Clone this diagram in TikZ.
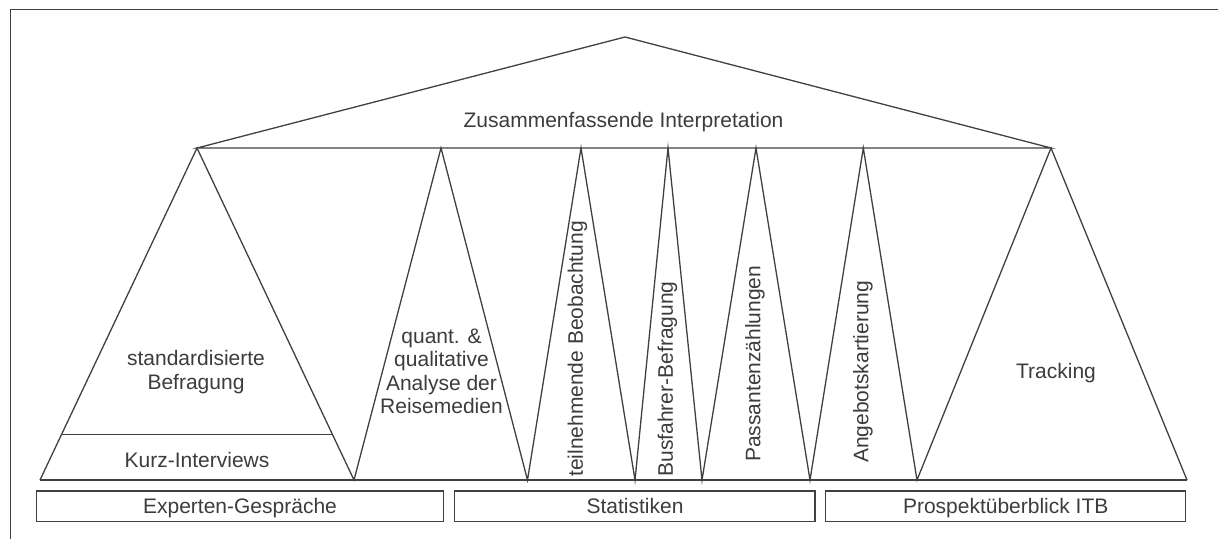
\documentclass[tikz,border=0pt]{standalone}
\usepackage{fontspec}
\setmainfont{Liberation Sans}
\definecolor{linegray}{HTML}{404040}
\definecolor{textgray}{HTML}{3C3C3C}
\begin{document}
\begin{tikzpicture}[x=1pt,y=-1pt,
  ln/.style={draw=linegray,line width=1.3pt,line join=miter},
  frame/.style={draw=linegray,line width=1pt},
  lbl/.style={text=textgray,font=\fontsize{21}{23.5}\selectfont,inner sep=0pt},
  vlbl/.style={lbl,rotate=90,anchor=west},
  boxlbl/.style={lbl,anchor=base}]
\useasboundingbox (0,0) rectangle (1218,539);
% frame (top and left only)
\draw[frame] (10.5,539) -- (10.5,9.5) -- (1218,9.5);
% key points
\coordinate (roofL) at (197,148);
\coordinate (roofT) at (625,37);
\coordinate (roofR) at (1051,148);
\coordinate (b0) at (40,480);
\coordinate (b1) at (354,480);
\coordinate (t1) at (441,148);
\coordinate (b2) at (527.5,480);
\coordinate (t2) at (581,148);
\coordinate (b3) at (635,480);
\coordinate (t3) at (668,148);
\coordinate (b4) at (702,480);
\coordinate (t4) at (756,148);
\coordinate (b5) at (810,480);
\coordinate (t5) at (863.3,148);
\coordinate (b6) at (917,480);
\coordinate (b7) at (1187,480);
\coordinate (kL) at (62,434.3);
\coordinate (kR) at (332.2,434.3);
% roof
\draw[ln] (roofL) -- (roofT) -- (roofR) -- cycle;
% zigzag
\draw[ln] (b0) -- (roofL) -- (b1) -- (t1) -- (b2) -- (t2) -- (b3) -- (t3) -- (b4) -- (t4) -- (b5) -- (t5) -- (b6) -- (roofR) -- (b7);
% base line
\draw[ln] (b0) -- (b7);
% Kurz-Interviews line
\draw[ln] (kL) -- (kR);
% bottom boxes
\node[ln,minimum width=406.6pt,minimum height=30.7pt,inner sep=0pt] (exp) at (240,506.3) {};
\node[ln,minimum width=360.7pt,minimum height=30.7pt,inner sep=0pt] (stat) at (634.7,506.3) {};
\node[ln,minimum width=360pt,minimum height=30.7pt,inner sep=0pt] (itb) at (1005.7,506.3) {};
\node[boxlbl] (expT) at (240,513.3) {Experten-Gespräche};
\node[boxlbl] (statT) at (635,513.3) {Statistiken};
\node[boxlbl] (itbT) at (1005.7,513.3) {Prospektüberblick ITB};
% labels
\node[boxlbl] (zus) at (623.5,127.5) {Zusammenfassende Interpretation};
\node[lbl,align=center] (std) at (196,372) {standardisierte\\Befragung};
\node[boxlbl] (kurz) at (197,467.3) {Kurz-Interviews};
\node[lbl,align=center] (quant) at (441.5,371.5) {quant. \&\\qualitative\\Analyse der\\Reisemedien};
\node[vlbl] (teil) at (577.5,477) {teilnehmende Beobachtung};
\node[vlbl] (bus) at (667.5,476.7) {Busfahrer-Befragung};
\node[vlbl] (pass) at (755,462) {Passantenzählungen};
\node[vlbl] (ang) at (863,463) {Angebotskartierung};
\node[boxlbl] (track) at (1056,378.3) {Tracking};
\end{tikzpicture}
\end{document}
